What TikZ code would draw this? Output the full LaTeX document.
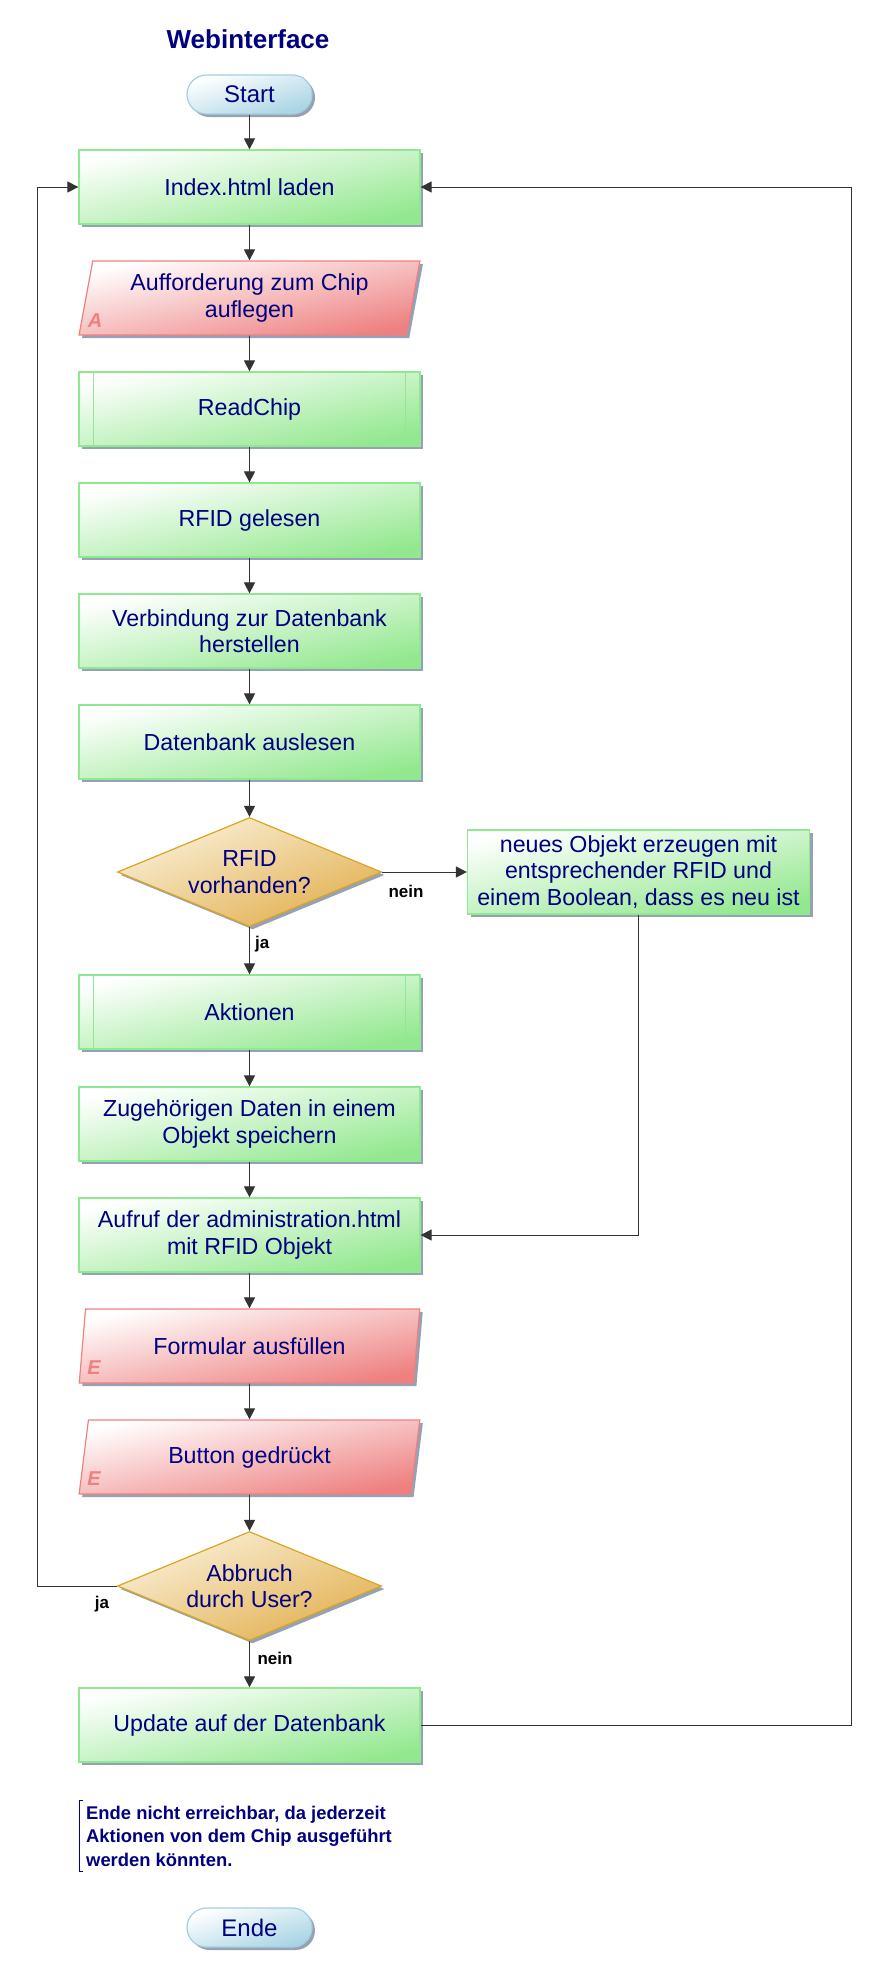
\documentclass[tikz,border=0pt]{standalone}
\usepackage{fontspec}
\setmainfont{Liberation Sans}
\usetikzlibrary{shapes.geometric,arrows.meta,shadows}
\definecolor{navy}{HTML}{000080}
\definecolor{gline}{HTML}{90E890}
\definecolor{gfill}{HTML}{92E88E}
\definecolor{rline}{HTML}{F08080}
\definecolor{rfill}{HTML}{EE8080}
\definecolor{dline}{HTML}{DAA520}
\definecolor{dfill}{HTML}{E2B050}
\definecolor{dlight}{HTML}{FAF0D8}
\definecolor{bline}{HTML}{A6CEE0}
\definecolor{bfill}{HTML}{A8D4E4}
\definecolor{shad}{HTML}{8A98AC}
\begin{document}
\begin{tikzpicture}[x=1pt,y=-1pt,
  base/.style={text=navy, align=center, line width=1.2pt, inner sep=0pt,
    font=\fontsize{23.2}{26.5}\selectfont,
    drop shadow={shadow xshift=3pt,shadow yshift=-3pt,fill=shad,opacity=0.9}},
  proc/.style={base, rectangle, minimum width=341pt, minimum height=74pt,
    draw=gline, top color=white, bottom color=gfill, shading angle=12},
  sub/.style={proc},
  io/.style={base, trapezium, trapezium left angle=77.8, trapezium right angle=102.2,
    trapezium stretches=true, minimum width=341pt, minimum height=74pt,
    draw=rline, top color=white, bottom color=rfill, shading angle=12},
  dec/.style={base, diamond, aspect=2.42, minimum width=264pt, minimum height=109pt,
    draw=dline, top color=dlight, bottom color=dfill, shading angle=22},
  term/.style={base, rectangle, rounded corners=19.5pt, minimum width=125pt, minimum height=39pt,
    draw=bline, top color=white, bottom color=bfill, shading angle=17,
    font=\fontsize{24}{28}\selectfont},
  tag/.style={text=rline, font=\bfseries\itshape\fontsize{20}{22}\selectfont, inner sep=0pt},
  lbl/.style={text=black, font=\bfseries\fontsize{17}{20}\selectfont, inner sep=0pt},
  arr/.style={draw=black!80, line width=0.9pt, -{Triangle[length=11pt,width=11pt]}},
  line/.style={draw=black!80, line width=0.9pt}
]
\useasboundingbox (0,0) rectangle (886,1982);

\node[text=navy, font=\bfseries\fontsize{26}{30}\selectfont, inner sep=0pt] (title) at (248,39) {Webinterface};

\node[term] (start) at (249.5,94.5) {Start};
\node[proc] (index) at (249.5,187) {Index.html laden};
\node[io] (auff) at (249.5,298) {Aufforderung zum Chip\\auflegen};
\node[tag] (tagA) at (95,321) {A};
\node[sub] (read) at (249.5,409) {ReadChip};
\draw[gline, line width=1.2pt] ([xshift=15pt]read.north west) -- ([xshift=15pt]read.south west)
  ([xshift=-15pt]read.north east) -- ([xshift=-15pt]read.south east);
\node[proc] (rfid) at (249.5,520) {RFID gelesen};
\node[proc] (verb) at (249.5,631) {Verbindung zur Datenbank\\herstellen};
\node[proc] (ausl) at (249.5,742) {Datenbank auslesen};
\node[dec] (vorh) at (249.5,872) {RFID\\vorhanden?};
\node[proc, minimum width=342pt, minimum height=84pt] (neu) at (638.5,872)
  {neues Objekt erzeugen mit\\entsprechender RFID und\\einem Boolean, dass es neu ist};
\node[sub] (akt) at (249.5,1012) {Aktionen};
\draw[gline, line width=1.2pt] ([xshift=15pt]akt.north west) -- ([xshift=15pt]akt.south west)
  ([xshift=-15pt]akt.north east) -- ([xshift=-15pt]akt.south east);
\node[proc] (zug) at (249.5,1124) {Zugehörigen Daten in einem\\Objekt speichern};
\node[proc] (aufr) at (249.5,1235) {Aufruf der administration.html\\mit RFID Objekt};
\node[io] (form) at (249.5,1346) {Formular ausfüllen};
\node[tag] (tagE1) at (94,1368) {E};
\node[io] (butt) at (249.5,1457) {Button gedrückt};
\node[tag] (tagE2) at (94,1479) {E};
\node[dec] (abbr) at (249.5,1586) {Abbruch\\durch User?};
\node[proc] (upd) at (249.5,1725) {Update auf der Datenbank};

\node[text=navy, align=left, anchor=north west, inner sep=0pt,
  font=\bfseries\fontsize{18.4}{23.3}\selectfont] (note) at (86,1806)
  {Ende nicht erreichbar, da jederzeit\\Aktionen von dem Chip ausgeführt\\werden könnten.};
\draw[navy, line width=0.8pt] (82.5,1800) -- (79,1800) -- (79,1871) -- (82.5,1871);

\node[term] (ende) at (249.5,1927.5) {Ende};

\coordinate (R) at (851,187);
\coordinate (L) at (37,187);

\draw[arr] (start) -- (index);
\draw[arr] (index) -- (auff);
\draw[arr] (auff) -- (read);
\draw[arr] (read) -- (rfid);
\draw[arr] (rfid) -- (verb);
\draw[arr] (verb) -- (ausl);
\draw[arr] (ausl) -- (vorh);
\draw[arr] (vorh) -- (neu);
\draw[arr] (vorh) -- (akt);
\draw[arr] (akt) -- (zug);
\draw[arr] (zug) -- (aufr);
\draw[arr] (neu.south) |- (aufr.east);
\draw[arr] (aufr) -- (form);
\draw[arr] (form) -- (butt);
\draw[arr] (butt) -- (abbr);
\draw[arr] (abbr) -- (upd);
\draw[arr] (abbr.west) -| (L) -- (index.west);
\draw[arr] (upd.east) -| (R) -- (index.east);

\node[lbl] (nein1) at (406,891) {nein};
\node[lbl, anchor=west] (ja1) at (255,944) {ja};
\node[lbl] (ja2) at (102,1604) {ja};
\node[lbl] (nein2) at (275,1658) {nein};
\end{tikzpicture}
\end{document}
